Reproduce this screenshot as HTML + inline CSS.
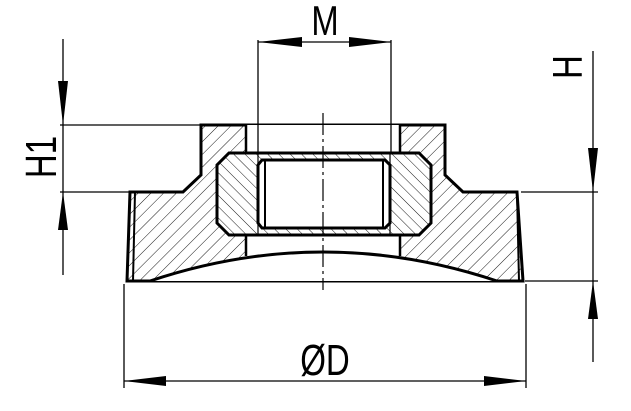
<!DOCTYPE html>
<html><head><meta charset="utf-8"><style>
html,body{margin:0;padding:0;background:#fff;width:631px;height:411px;overflow:hidden}
svg text{font-family:"Liberation Sans",sans-serif}
</style></head><body>
<svg width="631" height="411" viewBox="0 0 631 411" xmlns="http://www.w3.org/2000/svg">
<defs>
<pattern id="h1" patternUnits="userSpaceOnUse" width="9" height="9" patternTransform="rotate(45)">
<line x1="0" y1="0" x2="0" y2="9" stroke="#000" stroke-width="0.9"/></pattern>
<pattern id="h2" patternUnits="userSpaceOnUse" width="8" height="8" patternTransform="rotate(-45)">
<line x1="0" y1="0" x2="0" y2="8" stroke="#000" stroke-width="0.9"/></pattern>
</defs>
<g stroke="#000" fill="none">
<path d="M201,125 L445,125 L445,175 L463,192 L517,192 L523,281 L127,281 L130,192 L183,192 L201,175 Z" fill="url(#h1)" stroke-width="3"/>
<rect x="246" y="125" width="154" height="135" fill="#fff" stroke="none"/>
<path d="M150,281 Q323,223 497,281 Z" fill="#fff" stroke="none"/>
<path d="M150,281 Q323,223 497,281" stroke-width="3"/>
<line x1="246" y1="125" x2="246" y2="256" stroke-width="2.5"/>
<line x1="400" y1="125" x2="400" y2="256" stroke-width="2.5"/>
<line x1="135" y1="192" x2="133" y2="281" stroke-width="2"/>
<line x1="517" y1="192" x2="519" y2="281" stroke-width="2"/>
<path d="M229,153 L419,153 L431,165 L431,223 L419,235 L229,235 L217,223 L217,165 Z" fill="#fff" stroke="none"/>
<path d="M229,153 L419,153 L431,165 L431,223 L419,235 L229,235 L217,223 L217,165 Z" fill="url(#h2)" stroke-width="3"/>
<path d="M262,160 L385,160 L390,165 L390,223 L385,228 L262,228 L258,223 L258,165 Z" fill="#fff" stroke-width="3"/>
<line x1="258" y1="153" x2="258" y2="235" stroke-width="1.2"/>
<line x1="390" y1="153" x2="390" y2="235" stroke-width="1.2"/>
<line x1="265" y1="160" x2="265" y2="228" stroke-width="2"/>
<line x1="383" y1="160" x2="383" y2="228" stroke-width="2"/>
<line x1="323" y1="113" x2="323" y2="290" stroke-width="1.2" stroke-dasharray="22,4,3,4"/>
<g stroke-width="1.3">
<line x1="258" y1="40" x2="258" y2="153"/>
<line x1="391" y1="40" x2="391" y2="153"/>
<line x1="60" y1="125" x2="201" y2="125"/>
<line x1="60" y1="192" x2="130" y2="192"/>
<line x1="521" y1="192" x2="598" y2="192"/>
<line x1="525" y1="281" x2="598" y2="281"/>
<line x1="124" y1="284" x2="124" y2="388"/>
<line x1="526" y1="284" x2="526" y2="388"/>
<line x1="258" y1="42" x2="391" y2="42"/>
<line x1="63" y1="39" x2="63" y2="275"/>
<line x1="593" y1="51" x2="593" y2="362"/>
<line x1="124" y1="381" x2="526" y2="381"/>
</g>
</g>
<g fill="#000">
<polygon points="258,42 302,37 302,47"/>
<polygon points="391,42 349,37 349,47"/>
<polygon points="63,125 58,81 68,81"/>
<polygon points="63,192 58,230 68,230"/>
<polygon points="593,192 588,148 598,148"/>
<polygon points="593,281 588,319 598,319"/>
<polygon points="124,381 166,376 166,386"/>
<polygon points="526,381 484,376 484,386"/>
</g>
<text x="0" y="0" font-size="42" text-anchor="middle" transform="translate(325,35) scale(0.78,1)">M</text>
<text x="0" y="0" font-size="44" text-anchor="middle" transform="translate(56,157) rotate(-90) scale(0.75,1)">H1</text>
<text x="0" y="0" font-size="42" text-anchor="middle" transform="translate(582,67) rotate(-90) scale(0.78,1)">H</text>
<text x="0" y="0" font-size="44" text-anchor="middle" transform="translate(325,375) scale(0.75,1)">ØD</text>
</svg>
</body></html>
